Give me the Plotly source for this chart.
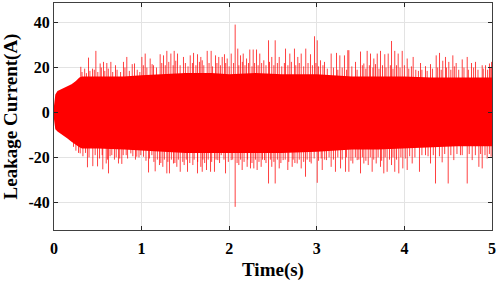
import plotly.graph_objects as go

# dense band envelope (A)
env_t = [0.0, 0.005, 0.015, 0.04, 0.1, 0.15, 0.2, 0.25, 0.29, 0.32, 0.5, 0.8, 1.0,
         1.2, 1.5, 1.8, 2.0, 2.3, 2.6, 3.0, 3.2, 3.4, 3.7, 4.0, 4.3, 4.6, 5.0]
env_hi = [3.0, 6.0, 8.0, 9.5, 10.5, 11.5, 12.5, 14.0, 15.5, 16.0, 16.0, 16.0, 16.5,
          17.0, 17.5, 17.5, 17.0, 17.5, 17.0, 17.0, 16.5, 16.0, 16.0, 16.0, 15.5, 15.5, 15.5]
env_lo = [-3.0, -5.5, -7.5, -8.5, -10.0, -11.5, -13.0, -14.5, -15.5, -16.0, -16.0, -16.5, -17.0,
          -17.5, -18.0, -18.0, -18.0, -18.0, -18.0, -17.5, -17.0, -16.5, -16.5, -16.0, -15.5, -15.0, -15.0]

# positive spikes: time (s), peak (A)
up_t = [0.306, 0.394, 0.44, 0.478, 0.527, 0.565, 0.603, 0.649, 0.702, 0.793, 0.831, 0.893,
        0.919, 1.003, 1.041, 1.098, 1.136, 1.212, 1.25, 1.288, 1.334, 1.372, 1.41, 1.478,
        1.555, 1.593, 1.638, 1.676, 1.692, 1.749, 1.794, 1.844, 1.881, 1.92, 1.946, 1.977,
        2.023, 2.068, 2.098, 2.129, 2.16, 2.198, 2.235, 2.274, 2.312, 2.349, 2.395, 2.449,
        2.486, 2.525, 2.571, 2.643, 2.692, 2.745, 2.783, 2.822, 2.874, 2.928, 2.974, 3.005,
        3.042, 3.088, 3.164, 3.225, 3.263, 3.316, 3.354, 3.366, 3.442, 3.499, 3.537, 3.575,
        3.613, 3.651, 3.69, 3.727, 3.776, 3.815, 3.853, 3.89, 3.929, 3.975, 4.032, 4.1,
        4.184, 4.241, 4.298, 4.363, 4.401, 4.438, 4.469, 4.507, 4.553, 4.591, 4.66, 4.717,
        4.766, 4.812, 4.888, 4.926, 4.971, 4.995]
up_v = [20.3, 24.4, 19.5, 27.4, 21.8, 22.5, 22.0, 22.5, 21.0, 22.5, 24.7, 21.5,
        21.8, 24.7, 26.2, 24.0, 21.0, 25.9, 25.4, 27.4, 26.2, 27.4, 26.2, 24.7,
        25.4, 26.5, 25.9, 24.7, 23.2, 27.4, 27.4, 25.4, 24.7, 24.7, 25.9, 24.0,
        26.2, 39.1, 28.4, 25.4, 26.2, 24.0, 28.0, 28.0, 28.0, 26.2, 23.2, 32.1,
        24.7, 32.1, 24.7, 28.4, 26.2, 28.4, 24.7, 26.2, 28.4, 25.9, 33.9, 32.1,
        23.2, 22.5, 26.2, 26.5, 25.4, 25.4, 27.7, 27.7, 22.5, 27.1, 21.8, 27.4,
        26.2, 24.0, 26.2, 27.4, 25.9, 26.2, 31.8, 27.4, 26.2, 27.4, 24.0, 24.7,
        22.0, 20.6, 21.5, 25.4, 26.5, 23.0, 24.7, 22.5, 25.4, 22.0, 23.6, 24.7,
        22.0, 22.5, 21.0, 21.0, 21.8, 22.5]

# negative spikes: time (s), trough (A)
dn_t = [0.223, 0.299, 0.382, 0.443, 0.497, 0.557, 0.596, 0.622, 0.66, 0.736, 0.774, 0.824,
        0.877, 0.945, 0.991, 1.022, 1.079, 1.117, 1.155, 1.204, 1.242, 1.288, 1.318, 1.364,
        1.402, 1.441, 1.486, 1.524, 1.585, 1.638, 1.676, 1.692, 1.741, 1.787, 1.832, 1.87,
        1.909, 1.958, 2.023, 2.068, 2.11, 2.148, 2.205, 2.243, 2.281, 2.319, 2.365, 2.403,
        2.449, 2.486, 2.525, 2.571, 2.616, 2.669, 2.719, 2.776, 2.822, 2.871, 2.936, 3.005,
        3.062, 3.111, 3.164, 3.213, 3.271, 3.328, 3.366, 3.411, 3.461, 3.499, 3.537, 3.587,
        3.632, 3.678, 3.727, 3.765, 3.803, 3.853, 3.89, 3.936, 3.982, 4.032, 4.089, 4.172,
        4.241, 4.298, 4.355, 4.431, 4.5, 4.564, 4.64, 4.717, 4.774, 4.85, 4.888, 4.945, 4.99]
dn_v = [-15.3, -18.2, -24.4, -23.9, -24.0, -25.3, -22.7, -27.1, -19.0, -22.7, -22.9, -19.0,
        -18.2, -19.7, -19.0, -19.7, -26.7, -19.0, -26.2, -23.4, -24.2, -27.1, -27.1, -22.7,
        -24.2, -26.4, -23.4, -26.4, -23.4, -27.1, -24.2, -26.4, -25.6, -26.4, -26.4, -21.2,
        -19.0, -27.1, -21.2, -42.0, -23.4, -25.6, -24.2, -24.9, -24.9, -25.6, -24.2, -21.2,
        -31.6, -24.2, -31.6, -24.9, -21.2, -25.6, -24.2, -22.7, -24.9, -28.6, -22.7, -31.3,
        -25.6, -21.2, -24.2, -26.4, -24.9, -26.4, -26.4, -22.7, -21.2, -27.1, -22.7, -23.4,
        -26.4, -22.7, -24.2, -27.1, -26.4, -23.4, -26.4, -27.1, -24.9, -25.6, -22.7, -26.4,
        -19.0, -22.7, -31.6, -22.2, -31.6, -21.2, -19.0, -31.6, -21.2, -24.2, -24.9, -20.5, -19.7]

# shorter fringe spikes along the band edges (estimated)
fr_up_t = [0.32, 0.35, 0.37, 0.41, 0.46, 0.50, 0.54, 0.58, 0.62, 0.67, 0.72, 0.76, 0.81, 0.86,
           0.95, 0.98, 1.02, 1.06, 1.12, 1.17, 1.23, 1.27, 1.31, 1.36, 1.39, 1.44, 1.50, 1.53,
           1.58, 1.62, 1.66, 1.71, 1.77, 1.81, 1.86, 1.90, 1.96, 2.00, 2.05, 2.11, 2.15, 2.18,
           2.22, 2.26, 2.29, 2.33, 2.37, 2.42, 2.46, 2.51, 2.55, 2.60, 2.63, 2.67, 2.71, 2.76,
           2.80, 2.85, 2.90, 2.95, 2.99, 3.02, 3.07, 3.12, 3.19, 3.24, 3.29, 3.34, 3.40, 3.46,
           3.52, 3.56, 3.60, 3.64, 3.67, 3.71, 3.75, 3.79, 3.84, 3.87, 3.91, 3.95, 4.00, 4.05,
           4.08, 4.13, 4.16, 4.20, 4.26, 4.32, 4.38, 4.42, 4.48, 4.53, 4.57, 4.62, 4.68, 4.73,
           4.79, 4.84, 4.90, 4.95, 4.98]
fr_up_v = [18.0, 19.5, 17.5, 18.5, 19.0, 18.0, 20.0, 18.5, 19.5, 18.0, 19.0, 18.0, 20.0, 18.5,
           19.0, 18.0, 21.0, 20.0, 21.5, 20.0, 22.0, 21.0, 22.5, 21.0, 23.0, 21.0, 22.0, 20.5,
           22.0, 21.0, 22.5, 21.0, 22.0, 20.5, 22.0, 21.0, 22.0, 20.5, 22.0, 21.0, 22.5, 21.0,
           22.0, 20.5, 22.0, 21.0, 22.0, 21.0, 22.5, 21.0, 22.0, 20.5, 22.0, 21.0, 22.5, 21.0,
           22.0, 20.5, 22.0, 21.0, 22.0, 20.5, 21.0, 19.5, 20.0, 19.0, 20.0, 19.0, 20.5, 19.0,
           21.0, 19.5, 21.0, 20.0, 21.5, 19.5, 21.0, 20.0, 21.0, 19.5, 21.0, 20.0, 21.0, 19.5,
           20.5, 19.0, 18.5, 19.0, 18.5, 19.5, 20.0, 19.0, 20.0, 19.0, 20.5, 19.0, 20.0, 19.0,
           20.0, 19.0, 19.5, 19.0, 20.0]
fr_dn_t = [0.25, 0.28, 0.33, 0.36, 0.40, 0.47, 0.52, 0.55, 0.61, 0.64, 0.69, 0.71, 0.75, 0.79,
           0.84, 0.90, 0.93, 0.97, 1.05, 1.09, 1.14, 1.18, 1.22, 1.26, 1.30, 1.34, 1.38, 1.42,
           1.47, 1.51, 1.55, 1.60, 1.64, 1.70, 1.72, 1.76, 1.80, 1.85, 1.89, 1.94, 1.99, 2.04,
           2.09, 2.13, 2.17, 2.21, 2.26, 2.30, 2.34, 2.38, 2.42, 2.47, 2.51, 2.55, 2.59, 2.64,
           2.68, 2.73, 2.75, 2.80, 2.85, 2.89, 2.92, 2.97, 3.02, 3.05, 3.09, 3.14, 3.19, 3.24,
           3.29, 3.34, 3.39, 3.44, 3.48, 3.52, 3.56, 3.61, 3.65, 3.70, 3.74, 3.78, 3.83, 3.87,
           3.91, 3.96, 4.01, 4.06, 4.12, 4.20, 4.27, 4.33, 4.40, 4.46, 4.53, 4.60, 4.66, 4.74,
           4.81, 4.87, 4.92, 4.97]
fr_dn_v = [-17.0, -18.0, -19.5, -18.0, -20.0, -19.0, -20.5, -19.0, -21.0, -19.5, -21.0, -20.0,
           -20.5, -19.0, -20.5, -19.5, -21.0, -20.0, -21.5, -20.5, -22.0, -21.0, -22.5, -21.0,
           -22.0, -21.0, -22.5, -21.0, -22.0, -21.0, -22.5, -21.0, -22.0, -21.0, -22.5, -21.0,
           -22.0, -21.0, -22.5, -21.0, -22.0, -21.0, -22.5, -21.0, -22.0, -21.0, -22.5, -21.0,
           -22.0, -21.0, -22.5, -21.0, -22.0, -21.0, -22.5, -21.0, -22.0, -21.0, -22.5, -21.0,
           -22.0, -21.0, -22.0, -20.5, -21.5, -20.5, -21.0, -20.0, -21.0, -20.0, -21.0, -20.0,
           -21.5, -20.0, -21.0, -20.0, -21.5, -20.0, -21.0, -20.0, -21.5, -20.0, -21.0, -20.0,
           -21.0, -20.0, -20.5, -19.5, -20.0, -19.0, -19.5, -19.0, -19.5, -18.5, -19.0, -18.5,
           -19.0, -18.5, -19.0, -18.5, -19.0, -18.5]

x_ticks = [0, 1, 2, 3, 4, 5]
y_ticks = [-40, -20, 0, 20, 40]

RED = "#ff0000"

spike_x, spike_y = [], []
for t, v in (list(zip(up_t, up_v)) + list(zip(dn_t, dn_v))
             + list(zip(fr_up_t, fr_up_v)) + list(zip(fr_dn_t, fr_dn_v))):
    spike_x += [t, t, None]
    spike_y += [0, v, None]

fig = go.Figure()
fig.add_trace(go.Scatter(x=env_t, y=env_hi, mode="lines", line=dict(width=0, color=RED),
                         hoverinfo="skip"))
fig.add_trace(go.Scatter(x=env_t, y=env_lo, mode="lines", line=dict(width=0, color=RED),
                         fill="tonexty", fillcolor=RED, hoverinfo="skip"))
fig.add_trace(go.Scatter(x=spike_x, y=spike_y, mode="lines",
                         line=dict(width=1, color="rgba(255,0,0,0.75)"),
                         hoverinfo="skip"))

axis_font = dict(family="Liberation Serif", size=16, color="black")
title_font = dict(family="Liberation Serif", size=19, color="black")

fig.update_layout(
    width=498, height=283,
    margin=dict(l=54, r=6, t=3, b=53),
    paper_bgcolor="white", plot_bgcolor="white",
    showlegend=False,
)
fig.update_xaxes(
    range=[0, 5], tickvals=x_ticks, ticktext=[f"<b>{v}</b>" for v in x_ticks],
    tickfont=axis_font, ticks="inside", ticklen=4, tickcolor="#262626", ticklabelstandoff=4,
    showline=True, linecolor="#404040", linewidth=1, mirror="ticks",
    showgrid=True, gridcolor="#e3e3e3", gridwidth=1, zeroline=False, automargin=False,
    title=dict(text="<b>Time(s)</b>", font=title_font, standoff=6),
)
fig.update_yaxes(
    range=[-52.3, 48.7], tickvals=y_ticks, ticktext=[f"<b>{v}</b>" for v in y_ticks],
    tickfont=axis_font, ticks="inside", ticklen=4, tickcolor="#262626",
    showline=True, linecolor="#404040", linewidth=1, mirror="ticks",
    showgrid=True, gridcolor="#e3e3e3", gridwidth=1, zeroline=False, automargin=False,
    title=dict(text="<b>Leakage Current(A)</b>", font=title_font, standoff=6),
)

# the page body has a default 8px margin; remove it so the figure fills the window
fig.write_html("out.html", config={"displayModeBar": False},
               post_script="document.body.style.margin='0';")
